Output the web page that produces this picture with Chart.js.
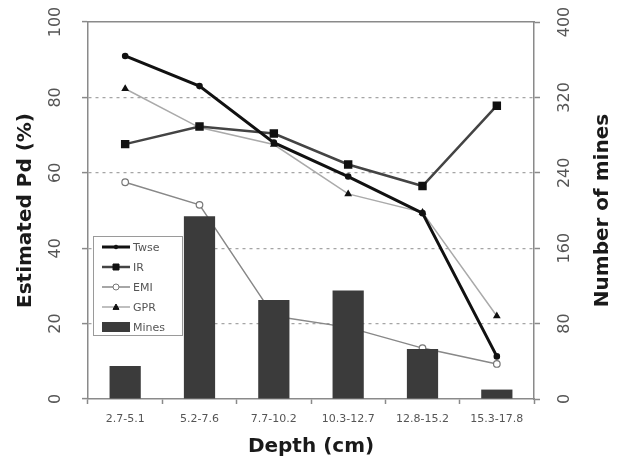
<!DOCTYPE html>
<html>
<head>
<meta charset="utf-8">
<script src="https://cdn.jsdelivr.net/npm/chart.js@4.4.1/dist/chart.umd.min.js"></script>
<style>
  html, body { margin: 0; padding: 0; background: #fff; }
</style>
</head>
<body>
<canvas id="depthChart" width="620" height="461"></canvas>
<script>
// depth bins on the x axis
var depthBins = ['2.7-5.1', '5.2-7.6', '7.7-10.2', '10.3-12.7', '12.8-15.2', '15.3-17.8'];
// estimated Pd (%) per sensor
var twse = [91, 83, 68, 59, 49.3, 11.3];
var ir   = [67.6, 72.3, 70.4, 62.2, 56.5, 77.8];
var emi  = [57.5, 51.5, 22, 19, 13.5, 9.3];
var gpr  = [82.3, 72, 67.5, 54.4, 49.5, 22];
// number of mines per bin (right axis)
var mines = [35, 194, 105, 115, 53, 10];
// tick labels
var pdTicks = [0, 20, 40, 60, 80, 100];
var mineTicks = [0, 80, 160, 240, 320, 400];

var FONT = '"DejaVu Sans", Arial, sans-serif';
var AXIS = '#8a8a8a';

// draws the rotated tick labels, axis titles and the boxed legend
var extrasPlugin = {
  id: 'extras',
  afterDatasetsDraw: function (chart) {
    var ctx = chart.ctx;
    var items = chart.data.datasets;
    var bx = 93, by = 236, bw = 89, bh = 99;
    ctx.save();
    ctx.fillStyle = '#fff';
    ctx.fillRect(bx, by, bw, bh);
    ctx.strokeStyle = '#9a9a9a';
    ctx.lineWidth = 1;
    ctx.strokeRect(bx + 0.5, by + 0.5, bw, bh);
    ctx.font = '11px ' + FONT;
    ctx.textBaseline = 'middle';
    ctx.textAlign = 'left';
    items.forEach(function (ds, i) {
      var y = by + 11 + i * 20;
      if (ds.type === 'bar') {
        ctx.fillStyle = ds.backgroundColor;
        ctx.fillRect(102, y - 5, 28, 10);
      } else {
        ctx.strokeStyle = ds.borderColor;
        ctx.lineWidth = ds.borderWidth;
        ctx.beginPath();
        ctx.moveTo(102, y);
        ctx.lineTo(130, y);
        ctx.stroke();
        var r = Math.min(ds.pointRadius, 3);
        ctx.fillStyle = ds.pointBackgroundColor;
        ctx.strokeStyle = ds.pointBorderColor;
        ctx.lineWidth = 1;
        ctx.beginPath();
        if (ds.pointStyle === 'rect') {
          ctx.rect(116 - r, y - r, 2 * r, 2 * r);
        } else if (ds.pointStyle === 'triangle') {
          ctx.moveTo(116, y - r);
          ctx.lineTo(116 + r, y + r * 0.8);
          ctx.lineTo(116 - r, y + r * 0.8);
          ctx.closePath();
        } else {
          ctx.arc(116, y, r, 0, Math.PI * 2);
        }
        ctx.fill();
        ctx.stroke();
      }
      ctx.fillStyle = '#555';
      ctx.fillText(ds.label, 133, y + 1);
    });
    ctx.restore();
  },
  afterDraw: function (chart) {
    var ctx = chart.ctx;
    var left = chart.scales.y, right = chart.scales.y1, area = chart.chartArea;
    ctx.save();
    ctx.fillStyle = '#555';
    ctx.font = '16px ' + FONT;
    ctx.textAlign = 'center';
    ctx.textBaseline = 'middle';
    left.ticks.forEach(function (t) {
      ctx.save();
      ctx.translate(56, left.getPixelForValue(t.value));
      ctx.rotate(-Math.PI / 2);
      ctx.fillText(String(t.value), 0, 0);
      ctx.restore();
    });
    right.ticks.forEach(function (t) {
      ctx.save();
      ctx.translate(565, right.getPixelForValue(t.value));
      ctx.rotate(-Math.PI / 2);
      ctx.fillText(String(t.value), 0, 0);
      ctx.restore();
    });
    // axis titles
    var mid = (area.top + area.bottom) / 2;
    ctx.fillStyle = '#1a1a1a';
    ctx.font = 'bold 20px ' + FONT;
    ctx.save();
    ctx.translate(26, mid);
    ctx.rotate(-Math.PI / 2);
    ctx.fillText('Estimated Pd (%)', 0, 0);
    ctx.restore();
    ctx.save();
    ctx.translate(603, mid);
    ctx.rotate(-Math.PI / 2);
    ctx.fillText('Number of mines', 0, 0);
    ctx.restore();
    ctx.fillText('Depth (cm)', (area.left + area.right) / 2, 447);
    ctx.restore();
  }
};

var chartArea = document.getElementById('depthChart').getContext('2d');
var myChart = new Chart(chartArea, {
  data: {
    labels: depthBins,
    datasets: [{
      type: 'line', label: 'Twse', data: twse, yAxisID: 'y', order: 1,
      borderColor: '#111', borderWidth: 3,
      pointStyle: 'circle', pointRadius: 1.8,
      pointBackgroundColor: '#111', pointBorderColor: '#111'
    }, {
      type: 'line', label: 'IR', data: ir, yAxisID: 'y', order: 2,
      borderColor: '#444', borderWidth: 2.5,
      pointStyle: 'rect', pointRadius: 4.2,
      pointBackgroundColor: '#111', pointBorderColor: '#111'
    }, {
      type: 'line', label: 'EMI', data: emi, yAxisID: 'y', order: 4,
      borderColor: '#888', borderWidth: 1.5,
      pointStyle: 'circle', pointRadius: 3.3,
      pointBackgroundColor: '#fff', pointBorderColor: '#777', pointBorderWidth: 1.2
    }, {
      type: 'line', label: 'GPR', data: gpr, yAxisID: 'y', order: 3,
      borderColor: '#aaa', borderWidth: 1.5,
      pointStyle: 'triangle', pointRadius: 3,
      pointBackgroundColor: '#111', pointBorderColor: '#111'
    }, {
      type: 'bar', label: 'Mines', data: mines, yAxisID: 'y1', order: 0,
      backgroundColor: '#3b3b3b', borderWidth: 0,
      categoryPercentage: 1, barPercentage: 0.42
    }]
  },
  options: {
    responsive: false,
    animation: false,
    layout: { padding: 0 },
    plugins: { legend: { display: false }, tooltip: { enabled: false } },
    scales: {
      x: {
        type: 'category', position: 'bottom', offset: true,
        grid: { drawOnChartArea: false, offset: true, tickLength: 5, tickColor: AXIS, tickWidth: 1.5 },
        border: { color: AXIS, width: 1.5 },
        ticks: { font: { family: FONT, size: 11 }, color: '#555', padding: 9, maxRotation: 0, autoSkip: false },
        afterFit: function (s) { s.height = 62; }
      },
      xTop: {
        type: 'category', position: 'top', offset: true,
        grid: { display: false },
        border: { color: AXIS, width: 1.5 },
        ticks: { display: false },
        afterFit: function (s) { s.height = 22; }
      },
      y: {
        position: 'left', min: 0, max: 100,
        afterBuildTicks: function (s) { s.ticks = pdTicks.map(function (v) { return { value: v }; }); },
        ticks: { display: false },
        grid: {
          color: function (c) { return (c.tick && (c.tick.value === 0 || c.tick.value === 100)) ? 'rgba(0,0,0,0)' : '#a5a5a5'; },
          lineWidth: 1.2, tickLength: 6, tickColor: AXIS, tickWidth: 1.5
        },
        border: { color: AXIS, width: 1.5, dash: [3, 4] },
        afterFit: function (s) { s.width = 88; }
      },
      y1: {
        position: 'right', min: 0, max: 400,
        afterBuildTicks: function (s) { s.ticks = mineTicks.map(function (v) { return { value: v }; }); },
        ticks: { display: false },
        grid: { drawOnChartArea: false, tickLength: 6, tickColor: AXIS, tickWidth: 1.5 },
        border: { color: AXIS, width: 1.5 },
        afterFit: function (s) { s.width = 86; }
      }
    }
  },
  plugins: [extrasPlugin]
});
</script>
</body>
</html>
